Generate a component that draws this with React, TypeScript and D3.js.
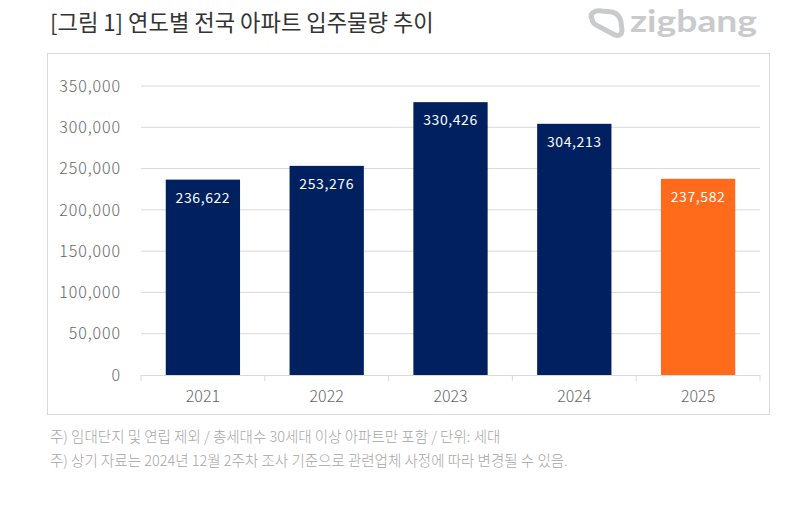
import React from "react";
import * as d3 from "d3";

const years = ["2021", "2022", "2023", "2024", "2025"];
const values = [236622, 253276, 330426, 304213, 237582];
const barColors = ["#002060", "#002060", "#002060", "#002060", "#FF6B1A"];
const yTicks = [0, 50000, 100000, 150000, 200000, 250000, 300000, 350000];
const title = "[그림 1] 연도별 전국 아파트 입주물량 추이";
const notes = [
  "주) 임대단지 및 연립 제외 / 총세대수 30세대 이상 아파트만 포함 / 단위: 세대",
  "주) 상기 자료는 2024년 12월 2주차 조사 기준으로 관련업체 사정에 따라 변경될 수 있음.",
];

export default function App() {
  const W = 800, H = 510;
  const x = d3.scaleBand<string>().domain(years).range([141, 760]).paddingInner(0.4).paddingOuter(0.2);
  const y = d3.scaleLinear().domain([0, 350000]).range([375, 86]);
  const fmt = d3.format(",");
  const font = "'Noto Sans CJK KR', 'Noto Sans', sans-serif";
  const stepEdges = d3.range(years.length + 1).map((i) => 141 + i * x.step());

  return (
    <svg width={W} height={H} style={{ position: "absolute", left: 0, top: 0, background: "#fff" }} fontFamily={font}>
      <rect x={0} y={0} width={W} height={H} fill="#fff" />
      <text x={50} y={31} fontSize={22.2} fill="#333" fontWeight={400}>{title}</text>
      {/* logo */}
      <g fill="none" stroke="#c9cacc" strokeWidth={5} strokeLinejoin="round" strokeLinecap="round">
        <path d="M592,19 C589,14 594,10 602,11 L612,12 C617,13 620,17 621,22 L622,30 C622,35 618,37 613,34 L596,25 C593,23 592,21 592,19 Z" />
      </g>
      <text x={630} y={32} fontSize={31} fontWeight={700} fill="#c9cacc" textLength={127} lengthAdjust="spacingAndGlyphs" fontFamily="'Lato', 'Noto Sans', sans-serif">zigbang</text>

      <rect x={47.5} y={53.5} width={722} height={361} fill="#fff" stroke="#d9d9d9" strokeWidth={1} />

      {yTicks.map((t) => (
        <g key={t}>
          {t > 0 && <line x1={141} x2={760} y1={y(t)} y2={y(t)} stroke="#d9d9d9" strokeWidth={1} />}
          <text x={121} y={y(t)} dy="0.36em" textAnchor="end" fontSize={16} fontWeight={300} letterSpacing={0.9} fill="#666">{fmt(t)}</text>
        </g>
      ))}

      {years.map((yr, i) => (
        <g key={yr}>
          <rect x={x(yr)} y={y(values[i])} width={x.bandwidth()} height={y(0) - y(values[i])} fill={barColors[i]} />
          <text x={(x(yr) as number) + x.bandwidth() / 2} y={y(values[i]) + 23} textAnchor="middle" fontSize={14} fill="#fff" letterSpacing={0.6}>{fmt(values[i])}</text>
          <text x={(x(yr) as number) + x.bandwidth() / 2} y={402} textAnchor="middle" fontSize={16} fontWeight={300} fill="#666">{yr}</text>
        </g>
      ))}

      <line x1={141} x2={760} y1={375.5} y2={375.5} stroke="#d9d9d9" strokeWidth={1} />
      {stepEdges.map((e, i) => (
        <line key={i} x1={e} x2={e} y1={375} y2={381} stroke="#d9d9d9" strokeWidth={1} />
      ))}

      {notes.map((n, i) => (
        <text key={i} x={50} y={442 + i * 24} fontSize={14.5} fontWeight={300} fill="#a6a6a6">{n}</text>
      ))}
    </svg>
  );
}
